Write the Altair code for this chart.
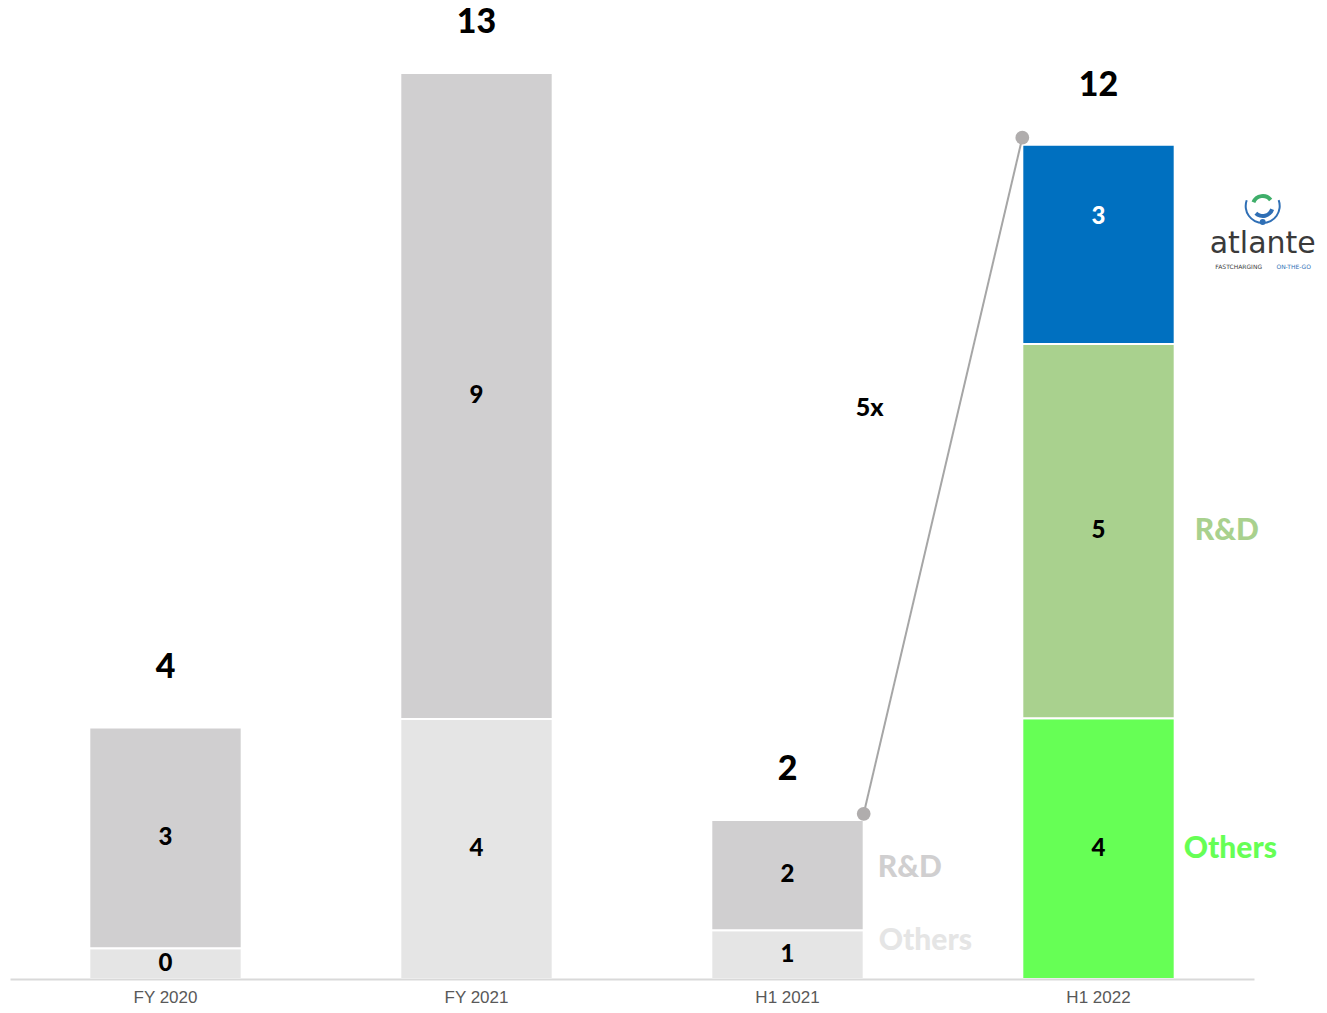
import altair as alt
import pandas as pd

periods = ["FY 2020", "FY 2021", "H1 2021", "H1 2022"]
others = [0.44, 3.73, 0.70, 3.74]
rnd = [3.17, 9.27, 1.58, 5.37]
atlante = [0.0, 0.0, 0.0, 2.86]

seg_keys = ["Others_old", "R&D_old", "Others", "R&D", "atlante"]
seg_colors = ["#e5e5e5", "#d0cfd0", "#66ff55", "#a9d18e", "#0070c0"]

rows = []
for i, p in enumerate(periods):
    new = p == "H1 2022"
    rows.append({"period": p, "key": "Others" if new else "Others_old", "value": others[i], "order": 1})
    rows.append({"period": p, "key": "R&D" if new else "R&D_old", "value": rnd[i], "order": 2})
    rows.append({"period": p, "key": "atlante", "value": atlante[i], "order": 3})
df = pd.DataFrame(rows)

totals = [others[i] + rnd[i] + atlante[i] for i in range(len(periods))]
tot_df = pd.DataFrame({"period": periods, "total": totals})

YMAX = 13.931
yscale = alt.Scale(domain=[0, YMAX], nice=False, zero=True)
xscale = alt.Scale(domain=periods, paddingInner=0.51, paddingOuter=0.255)
xaxis = alt.Axis(title=None, ticks=False, labelAngle=0, labelColor="#595959",
                 labelFontSize=17, labelFont="Liberation Sans", labelPadding=10,
                 domainColor="#d9d9d9", domainWidth=2, zindex=1)

def X(field="period:N", **kw):
    return alt.X(field, scale=xscale, sort=periods, axis=xaxis, **kw)

FONT = "Lato"
HEAVY = 900

base = (alt.Chart(df)
        .transform_filter("datum.value > 0")
        .transform_stack(stack="value", groupby=["period"], as_=["y0", "y1"],
                         sort=[alt.SortField("order", "ascending")])
        .transform_calculate(mid="(datum.y0 + datum.y1) / 2"))

bars = base.mark_bar(stroke="white", strokeWidth=2).encode(
    x=X(),
    y=alt.Y("y0:Q", scale=yscale, axis=None),
    y2="y1:Q",
    color=alt.Color("key:N", scale=alt.Scale(domain=seg_keys, range=seg_colors), legend=None),
)

seg_labels = base.transform_filter("datum.key != 'atlante'").mark_text(
    fontSize=24, fontWeight=HEAVY, font=FONT, color="black").encode(
    x=X(),
    y=alt.Y("mid:Q", scale=yscale, axis=None),
    text=alt.Text("value:Q", format=".0f"),
)
atl_label = base.transform_filter("datum.key == 'atlante'").mark_text(
    dy=-27, fontSize=24, fontWeight=HEAVY, font=FONT, color="white").encode(
    x=X(),
    y=alt.Y("mid:Q", scale=yscale, axis=None),
    text=alt.Text("value:Q", format=".0f"),
)

tot_base = alt.Chart(tot_df)
tot_enc = dict(
    x=X(),
    y=alt.Y("total:Q", scale=yscale, axis=None),
    text=alt.Text("total:Q", format=".0f"),
)
tot_labels_a = tot_base.transform_filter(
    "datum.period == 'FY 2021' || datum.period == 'H1 2021'").mark_text(
    dy=-50, fontSize=34, fontWeight=HEAVY, font=FONT, color="black").encode(**tot_enc)
tot_labels_b = tot_base.transform_filter(
    "datum.period == 'FY 2020' || datum.period == 'H1 2022'").mark_text(
    dy=-59, fontSize=34, fontWeight=HEAVY, font=FONT, color="black").encode(**tot_enc)

conn_df = pd.DataFrame({"a": ["H1 2021"], "b": ["H1 2022"],
                        "ya": [totals[2] + 0.09], "yb": [totals[3] + 0.1]})
rule = alt.Chart(conn_df).mark_rule(color="#a6a6a6", strokeWidth=2).encode(
    x=X("a:N", bandPosition=1),
    x2=alt.X2("b:N", bandPosition=0),
    y=alt.Y("ya:Q", scale=yscale, axis=None),
    y2="yb:Q",
)
dot_a = alt.Chart(conn_df).mark_circle(size=190, color="#b0adad", opacity=1).encode(
    x=X("a:N", bandPosition=1), y=alt.Y("ya:Q", scale=yscale, axis=None))
dot_b = alt.Chart(conn_df).mark_circle(size=190, color="#b0adad", opacity=1).encode(
    x=X("b:N", bandPosition=0), y=alt.Y("yb:Q", scale=yscale, axis=None))

growth_df = pd.DataFrame({"period": ["H1 2021"], "y": [8.19], "t": ["5x"]})
growth = alt.Chart(growth_df).mark_text(dx=6, fontSize=25, fontWeight=HEAVY, font=FONT, color="black").encode(
    x=X(bandPosition=1), y=alt.Y("y:Q", scale=yscale, axis=None), text="t:N")

legend_text = ["R&D", "Others", "R&D", "Others"]
legend_period = ["H1 2021", "H1 2021", "H1 2022", "H1 2022"]
legend_y = [1.59, 0.545, 6.425, 1.87]
legend_colors = ["#d0cfd0", "#e5e5e5", "#a9d18e", "#66ff55"]
legend_dx = [14, 15, 20, 9]

legend_layers = []
for t, p, yv, c, dx in zip(legend_text, legend_period, legend_y, legend_colors, legend_dx):
    ldf = pd.DataFrame({"period": [p], "y": [yv], "t": [t]})
    legend_layers.append(
        alt.Chart(ldf).mark_text(align="left", dx=dx, fontSize=30, fontWeight=HEAVY, font=FONT, color=c).encode(
            x=X(bandPosition=1), y=alt.Y("y:Q", scale=yscale, axis=None), text="t:N"))

# atlante logo (decoration anchored to the H1 2022 bar)
LX = 88
logo_df = pd.DataFrame({"period": ["H1 2022"], "yname": [10.55], "ysub": [10.22],
                        "yicon": [11.09], "ydot": [10.86]})
logo_name = alt.Chart(logo_df).mark_text(dx=LX, fontSize=30, font="DejaVu Sans", color="#3a3a3a", text="atlante").encode(
    x=X(bandPosition=1), y=alt.Y("yname:Q", scale=yscale, axis=None))
logo_sub1 = alt.Chart(logo_df).mark_text(dx=64, fontSize=6, font="DejaVu Sans", color="#3a3a3a", text="FASTCHARGING").encode(
    x=X(bandPosition=1), y=alt.Y("ysub:Q", scale=yscale, axis=None))
logo_sub2 = alt.Chart(logo_df).mark_text(dx=119, fontSize=6, font="DejaVu Sans", color="#2f6fb5", text="ON-THE-GO").encode(
    x=X(bandPosition=1), y=alt.Y("ysub:Q", scale=yscale, axis=None))
logo_ring = alt.Chart(logo_df).mark_arc(xOffset=LX, radius=18, radius2=16, theta=1.22, theta2=5.06, color="#2f6fb5").encode(
    x=X(bandPosition=1), y=alt.Y("yicon:Q", scale=yscale, axis=None))
logo_leaf1 = alt.Chart(logo_df).mark_arc(xOffset=LX, radius=12, radius2=8, theta=5.1, theta2=7.2, color="#3fae6a").encode(
    x=X(bandPosition=1), y=alt.Y("yicon:Q", scale=yscale, axis=None))
logo_leaf2 = alt.Chart(logo_df).mark_arc(xOffset=LX, radius=12, radius2=8, theta=1.9, theta2=3.9, color="#2f6fb5").encode(
    x=X(bandPosition=1), y=alt.Y("yicon:Q", scale=yscale, axis=None))
logo_dot = alt.Chart(logo_df).mark_circle(xOffset=LX, size=35, color="#2f6fb5", opacity=1).encode(
    x=X(bandPosition=1), y=alt.Y("ydot:Q", scale=yscale, axis=None))

chart = alt.layer(
    bars, seg_labels, atl_label, tot_labels_a, tot_labels_b, rule, dot_a, dot_b, growth, *legend_layers,
    logo_name, logo_sub1, logo_sub2, logo_ring, logo_leaf1, logo_leaf2, logo_dot,
).properties(
    width=1244, height=971,
    autosize=alt.AutoSizeParams(type="none"),
    padding={"left": 2, "top": 0, "right": 64, "bottom": 26},
).configure_view(stroke=None)

chart.save("out.html", embed_options={"renderer": "svg", "actions": False})
